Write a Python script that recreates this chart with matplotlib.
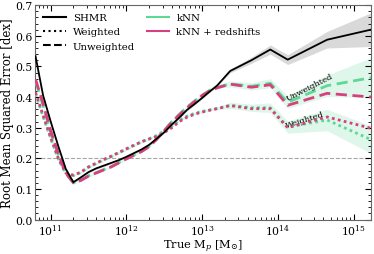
import matplotlib
matplotlib.use("Agg")
import matplotlib.pyplot as plt
import numpy as np
from matplotlib.lines import Line2D
from matplotlib.ticker import MultipleLocator

plt.rcParams["font.family"] = "DejaVu Serif"
plt.rcParams["mathtext.fontset"] = "dejavuserif"

# log10 of true halo mass
log_mass = [10.8, 10.9, 11.0, 11.1, 11.2, 11.3, 11.4, 11.5, 11.6, 11.7, 11.8,
            11.9, 12.0, 12.1, 12.2, 12.3, 12.4, 12.5, 12.6, 12.7, 12.8, 12.9,
            13.0, 13.1, 13.2, 13.37, 13.65, 13.9, 14.13, 14.65, 15.23]

shmr = [0.533, 0.405, 0.32, 0.24, 0.165, 0.122, 0.138, 0.155, 0.167, 0.176,
        0.185, 0.194, 0.205, 0.217, 0.229, 0.244, 0.264, 0.285, 0.31, 0.333,
        0.358, 0.377, 0.397, 0.418, 0.438, 0.485, 0.52, 0.555, 0.522, 0.587,
        0.62]
shmr_err = [0.003] * 25 + [0.006, 0.01, 0.015, 0.016, 0.027, 0.055]

knnz_unw = [0.458, 0.378, 0.29, 0.215, 0.152, 0.12, 0.128, 0.142, 0.152,
            0.162, 0.172, 0.185, 0.198, 0.21, 0.222, 0.238, 0.262, 0.29,
            0.318, 0.342, 0.365, 0.385, 0.405, 0.42, 0.43, 0.442, 0.432, 0.44,
            0.373, 0.412, 0.40]
knnz_w = [0.415, 0.34, 0.268, 0.2, 0.152, 0.145, 0.155, 0.172, 0.184, 0.196,
          0.207, 0.219, 0.231, 0.243, 0.254, 0.263, 0.271, 0.284, 0.3, 0.32,
          0.334, 0.344, 0.351, 0.357, 0.362, 0.372, 0.362, 0.362, 0.30, 0.335,
          0.298]

knn_unw = [0.452, 0.372, 0.286, 0.212, 0.15, 0.12, 0.129, 0.143, 0.153,
           0.163, 0.173, 0.186, 0.199, 0.211, 0.223, 0.239, 0.263, 0.291,
           0.32, 0.344, 0.367, 0.387, 0.406, 0.422, 0.432, 0.443, 0.435,
           0.445, 0.383, 0.437, 0.463]
knn_unw_err = [0.004] * 25 + [0.01, 0.012, 0.015, 0.02, 0.035, 0.065]
knn_w = [0.41, 0.336, 0.265, 0.198, 0.15, 0.144, 0.154, 0.171, 0.183, 0.195,
         0.206, 0.218, 0.23, 0.242, 0.254, 0.264, 0.275, 0.29, 0.305, 0.324,
         0.338, 0.347, 0.353, 0.358, 0.363, 0.373, 0.365, 0.365, 0.302,
         0.325, 0.261]
knn_w_err = [0.004] * 25 + [0.01, 0.012, 0.016, 0.02, 0.035, 0.045]

mass = 10 ** np.array(log_mass)
green = "#5fd896"
pink = "#d6407f"

fig, ax = plt.subplots(figsize=(3.74, 2.55), dpi=100)
fig.subplots_adjust(left=0.094, right=0.992, top=0.976, bottom=0.135)

# shaded spreads
ax.fill_between(mass, np.array(shmr) - shmr_err, np.array(shmr) + shmr_err,
                color="0.85", lw=0, zorder=1)
ax.fill_between(mass, np.array(knn_unw) - knn_unw_err,
                np.array(knn_unw) + knn_unw_err, color=green, alpha=0.2,
                lw=0, zorder=1)
ax.fill_between(mass, np.array(knn_w) - knn_w_err,
                np.array(knn_w) + knn_w_err, color=green, alpha=0.2,
                lw=0, zorder=1)

ax.axhline(0.2, color="0.65", ls="--", lw=0.8, zorder=0)

ax.plot(mass, knn_unw, color=green, ls=(0, (4, 2)), lw=2, zorder=3)
ax.plot(mass, knn_w, color=green, ls=(0, (1, 1.2)), lw=2, zorder=3)
ax.plot(mass, knnz_unw, color=pink, ls=(0, (4, 2)), lw=2, zorder=4)
ax.plot(mass, knnz_w, color=pink, ls=(0, (1, 1.2)), lw=2, zorder=4)
ax.plot(mass, shmr, color="k", lw=1.3, zorder=5)

ax.text(10 ** 14.42, 0.434, "Unweighted", rotation=27, fontsize=6,
        ha="center", va="center")
ax.text(10 ** 14.36, 0.327, "Weighted", rotation=17, fontsize=6,
        ha="center", va="center")

ax.set_xscale("log")
ax.set_xlim(10 ** 10.795, 10 ** 15.23)
ax.set_ylim(0, 0.7)
ax.yaxis.set_major_locator(MultipleLocator(0.1))
ax.yaxis.set_minor_locator(MultipleLocator(0.02))
ax.tick_params(which="both", direction="in", top=True, right=True,
               labelsize=7.8, pad=2)
ax.tick_params(which="major", length=4)
ax.tick_params(which="minor", length=2)
for s in ax.spines.values():
    s.set_color("0.4")

ax.set_xlabel(r"True M$_p$ [M$_{\odot}$]", fontsize=8.2)
ax.set_ylabel("Root Mean Squared Error [dex]", fontsize=8.5)
ax.xaxis.set_label_coords(0.5, -0.085)
ax.yaxis.set_label_coords(-0.062, 0.5)

handles = [
    Line2D([], [], color="k", lw=1.5),
    Line2D([], [], color="k", lw=1.5, ls=":"),
    Line2D([], [], color="k", lw=1.5, ls="--"),
    Line2D([], [], color=green, lw=1.5),
    Line2D([], [], color=pink, lw=1.5),
]
labels = ["SHMR", "Weighted", "Unweighted", "kNN", "kNN + redshifts"]
ax.legend(handles, labels, loc="upper left", ncol=2, frameon=False,
          fontsize=7.3, handlelength=2.2, handletextpad=0.7,
          columnspacing=1.2, labelspacing=0.5, borderaxespad=0.4)

fig.savefig("out.png", dpi=100)
